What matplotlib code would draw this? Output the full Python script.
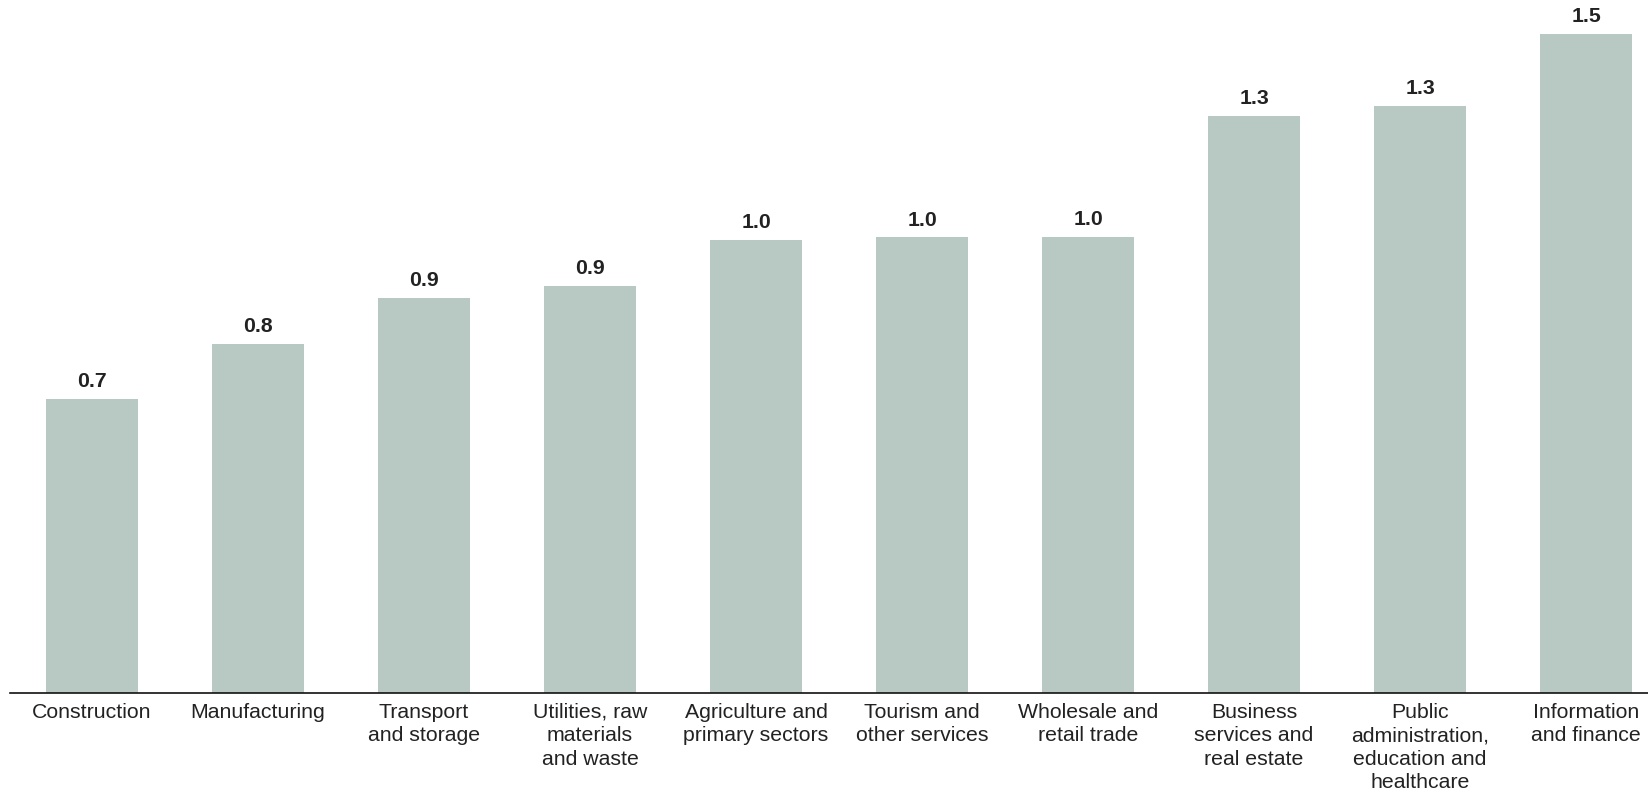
import matplotlib.pyplot as plt

plt.rcParams['font.family'] = ['Liberation Sans', 'DejaVu Sans']

sectors = [
    "Construction",
    "Manufacturing",
    "Transport\nand storage",
    "Utilities, raw\nmaterials\nand waste",
    "Agriculture and\nprimary sectors",
    "Tourism and\nother services",
    "Wholesale and\nretail trade",
    "Business\nservices and\nreal estate",
    "Public\nadministration,\neducation and\nhealthcare",
    "Information\nand finance",
]
values = [0.67, 0.795, 0.90, 0.927, 1.032, 1.037, 1.039, 1.314, 1.336, 1.50]

fig = plt.figure(figsize=(16.48, 7.94), dpi=100)
ax = fig.add_axes([10 / 1648, 101 / 794, 1638 / 1648, 693 / 794])

x = range(len(values))
bars = ax.bar(x, values, width=0.554, color="#b8c8c3", edgecolor="none")

for xi, v in zip(x, values):
    ax.annotate(f"{v:.1f}", (xi, v), xytext=(0, 5.5), textcoords="offset points",
                ha="center", va="bottom", fontsize=15.3, fontweight="bold", color="#222222")

ax.set_xlim(-0.494, 9.373)
ax.set_ylim(0, 1.5774)
ax.set_xticks(list(x))
ax.set_xticklabels(sectors, fontsize=15.3, color="#222222", linespacing=1.3)
ax.tick_params(axis="x", length=0, pad=7)
ax.set_yticks([])

for s in ["top", "right", "left"]:
    ax.spines[s].set_visible(False)
ax.spines["bottom"].set_linewidth(1.2)
ax.spines["bottom"].set_color("#111111")

fig.savefig("out.png", dpi=100)
